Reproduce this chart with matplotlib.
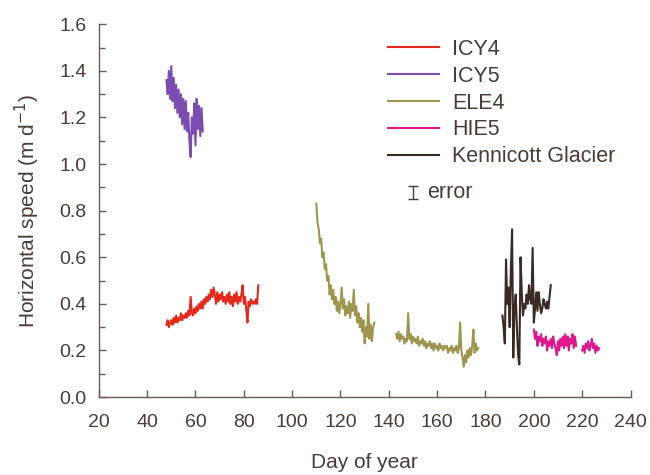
import numpy as np
import matplotlib
matplotlib.use("Agg")
import matplotlib.pyplot as plt
from matplotlib.ticker import MultipleLocator

plt.rcParams["font.family"] = ["Liberation Sans", "DejaVu Sans"]

# --------------------------------------------------
# Data
# --------------------------------------------------
icy5_days = np.arange(48.0, 63.01, 0.5)
icy5_speed = [1.36, 1.30, 1.40, 1.28, 1.42, 1.27, 1.37, 1.24, 1.34, 1.22,
              1.32, 1.20, 1.30, 1.17, 1.28, 1.15, 1.27, 1.14, 1.22, 1.10,
              1.03, 1.20, 1.13, 1.26, 1.08, 1.28, 1.15, 1.25, 1.12, 1.24,
              1.14]

icy4_days = np.arange(48.0, 86.01, 0.5)
icy4_speed = [0.31, 0.33, 0.30, 0.32, 0.33, 0.31, 0.34, 0.32, 0.35, 0.32,
              0.34, 0.33, 0.36, 0.33, 0.35, 0.34, 0.36, 0.34, 0.37, 0.35,
              0.43, 0.36, 0.35, 0.38, 0.36, 0.39, 0.37, 0.40, 0.38, 0.41,
              0.38, 0.42, 0.40, 0.43, 0.41, 0.44, 0.42, 0.46, 0.43, 0.47,
              0.44, 0.40, 0.45, 0.41, 0.44, 0.42, 0.45, 0.41, 0.43, 0.40,
              0.44, 0.41, 0.45, 0.40, 0.43, 0.39, 0.44, 0.41, 0.45, 0.40,
              0.43, 0.41, 0.44, 0.48, 0.40, 0.43, 0.38, 0.32, 0.41, 0.39,
              0.42, 0.40, 0.41, 0.40, 0.42, 0.40, 0.48]

ele4_days_a = np.arange(110.0, 134.01, 0.5)
ele4_speed_a = [0.83, 0.75, 0.72, 0.66, 0.68, 0.60, 0.62, 0.55, 0.57, 0.50,
                0.52, 0.44, 0.48, 0.42, 0.46, 0.40, 0.43, 0.37, 0.41, 0.36,
                0.40, 0.47, 0.38, 0.42, 0.35, 0.39, 0.36, 0.41, 0.34, 0.40,
                0.37, 0.46, 0.35, 0.39, 0.32, 0.36, 0.30, 0.34, 0.28, 0.33,
                0.23, 0.30, 0.26, 0.40, 0.25, 0.31, 0.24, 0.30, 0.32]

ele4_days_b = np.arange(143.0, 177.01, 0.5)
ele4_speed_b = [0.27, 0.25, 0.28, 0.24, 0.27, 0.25, 0.26, 0.23, 0.25, 0.24,
                0.36, 0.25, 0.27, 0.23, 0.26, 0.24, 0.25, 0.23, 0.26, 0.22,
                0.24, 0.23, 0.25, 0.22, 0.24, 0.21, 0.23, 0.22, 0.24, 0.21,
                0.23, 0.20, 0.23, 0.21, 0.22, 0.20, 0.23, 0.21, 0.22, 0.20,
                0.22, 0.21, 0.22, 0.19, 0.21, 0.20, 0.22, 0.19, 0.21, 0.20,
                0.22, 0.19, 0.21, 0.32, 0.20, 0.17, 0.13, 0.18, 0.15, 0.20,
                0.17, 0.21, 0.18, 0.22, 0.29, 0.19, 0.23, 0.20, 0.21]

hie5_days_a = np.arange(200.0, 217.51, 0.5)
hie5_speed_a = [0.29, 0.25, 0.28, 0.22, 0.26, 0.24, 0.27, 0.22, 0.25, 0.23,
                0.26, 0.20, 0.24, 0.22, 0.25, 0.21, 0.26, 0.23, 0.21, 0.18,
                0.24, 0.20, 0.25, 0.22, 0.26, 0.21, 0.27, 0.22, 0.26, 0.20,
                0.25, 0.23, 0.27, 0.21, 0.26, 0.22]

hie5_days_b = np.arange(220.0, 227.01, 0.5)
hie5_speed_b = [0.20, 0.22, 0.19, 0.23, 0.21, 0.24, 0.20, 0.22, 0.25, 0.21,
                0.23, 0.19, 0.22, 0.20, 0.21]

kenn_days = np.arange(187.0, 207.01, 0.5)
kenn_speed = [0.35, 0.30, 0.23, 0.59, 0.40, 0.47, 0.30, 0.55, 0.72, 0.17,
              0.38, 0.44, 0.30, 0.18, 0.14, 0.60, 0.45, 0.35, 0.40, 0.38,
              0.44, 0.40, 0.48, 0.42, 0.40, 0.64, 0.32, 0.38, 0.45, 0.37,
              0.45, 0.40, 0.36, 0.38, 0.42, 0.40, 0.38, 0.41, 0.38, 0.43,
              0.48]

# --------------------------------------------------
# Styles
# --------------------------------------------------
text_c = "#4a3b35"
axis_c = "#6b5a52"
c_icy4 = "#e5281a"
c_icy5 = "#7b4db3"
c_ele4 = "#9e964c"
c_hie5 = "#e0188e"
c_kenn = "#3b2a24"
lw = 1.5
fs_tick = 14
fs_label = 15
fs_leg = 15.5

fig = plt.figure(figsize=(6.5, 4.75), dpi=100)
ax = fig.add_axes([0.152, 0.164, 0.818, 0.785])

ax.plot(icy4_days, icy4_speed, color=c_icy4, lw=lw, label="ICY4")
ax.plot(icy5_days, icy5_speed, color=c_icy5, lw=lw, label="ICY5")
ax.plot(ele4_days_a, ele4_speed_a, color=c_ele4, lw=lw, label="ELE4")
ax.plot(ele4_days_b, ele4_speed_b, color=c_ele4, lw=lw)
ax.plot(hie5_days_a, hie5_speed_a, color=c_hie5, lw=lw, label="HIE5")
ax.plot(hie5_days_b, hie5_speed_b, color=c_hie5, lw=lw)
ax.plot(kenn_days, kenn_speed, color=c_kenn, lw=lw, label="Kennicott Glacier")

ax.set_xlim(20, 240)
ax.set_ylim(0, 1.6)
ax.xaxis.set_major_locator(MultipleLocator(20))
ax.yaxis.set_major_locator(MultipleLocator(0.2))
ax.yaxis.set_minor_locator(MultipleLocator(0.1))
ax.yaxis.set_major_formatter(plt.FormatStrFormatter("%.1f"))

for side in ["top", "right"]:
    ax.spines[side].set_visible(False)
for side in ["left", "bottom"]:
    ax.spines[side].set_color(axis_c)
    ax.spines[side].set_linewidth(1.0)

ax.tick_params(axis="both", which="both", direction="in", colors=axis_c,
               labelcolor=text_c, labelsize=fs_tick, width=1.0)
ax.tick_params(axis="both", which="major", length=5)
ax.tick_params(axis="y", which="minor", length=4)
ax.tick_params(axis="x", pad=12)
ax.tick_params(axis="y", pad=9)

ax.set_xlabel("Day of year", fontsize=fs_label, color=text_c, labelpad=16)
ax.set_ylabel("Horizontal speed (m d$^{-1}$)", fontsize=fs_label,
              color=text_c, labelpad=12)

leg = ax.legend(loc="upper left", bbox_to_anchor=(0.5837, 0.936),
                bbox_transform=fig.transFigure,
                frameon=False, fontsize=fs_leg, handlelength=2.37,
                handletextpad=0.6, labelspacing=0.27, borderaxespad=0)
for t in leg.get_texts():
    t.set_color(text_c)

# error symbol
ax.errorbar([0.635], [0.594], yerr=[0.0135], fmt="none", ecolor=text_c,
            elinewidth=1.0, capsize=3.5, capthick=1.0,
            transform=fig.transFigure, clip_on=False)
ax.text(0.657, 0.594, "error", transform=fig.transFigure, fontsize=fs_leg,
        color=text_c, va="center", ha="left")

fig.savefig("out.png", dpi=100)
